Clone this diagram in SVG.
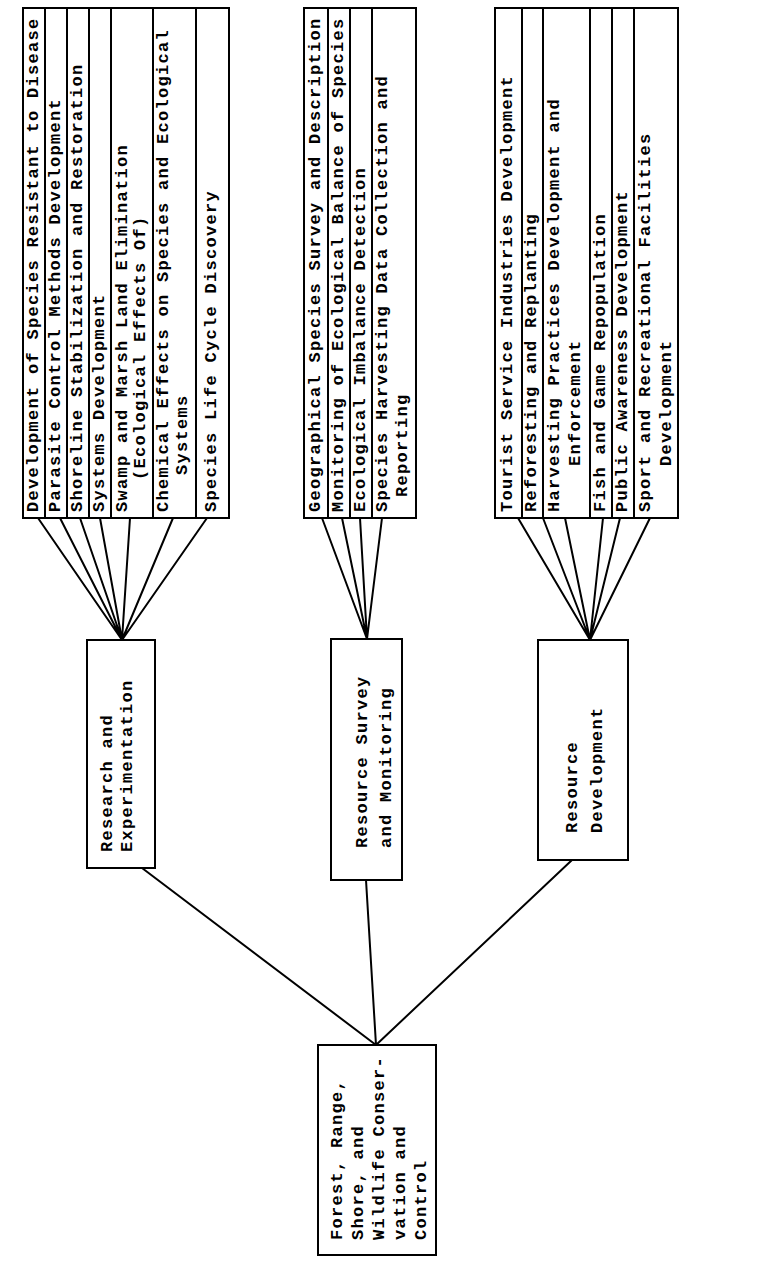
<svg xmlns="http://www.w3.org/2000/svg" width="770" height="1269" viewBox="0 0 770 1269">
<style>
.box{fill:#fff;stroke:#000;stroke-width:2}
.ln{stroke:#000;stroke-width:2;fill:none}
.t{font-family:"Liberation Mono","DejaVu Sans Mono",monospace;font-weight:bold;font-size:17px;letter-spacing:1.3px;fill:#000}
</style>
<rect width="770" height="1269" fill="#fff"/>
<g id="connectors">
<path class="ln" d="M38,518L122,640M60,518L122,640M80,518L122,640M100,518L122,640M130,518L122,640M173,518L122,640M207,518L122,640"/>
<path class="ln" d="M322,518L367,639M342,518L367,639M360,518L367,639M382,518L367,639"/>
<path class="ln" d="M518,518L590,640M543,518L590,640M565,518L590,640M603,518L590,640M620,518L590,640M650,518L590,640"/>
<path class="ln" d="M142,868L376,1045M366,880L376,1045M572,860L376,1045"/>
</g>
<g id="root">
<rect class="box" x="318" y="1045" width="118" height="210"/>
<text class="t" transform="translate(342,1240) rotate(-90)">Forest, Range,</text>
<text class="t" transform="translate(363,1240) rotate(-90)">Shore, and</text>
<text class="t" transform="translate(384,1240) rotate(-90)">Wildlife Conser-</text>
<text class="t" transform="translate(405,1240) rotate(-90)">vation and</text>
<text class="t" transform="translate(426,1240) rotate(-90)">Control</text>
</g>
<g id="research">
<rect class="box" x="87" y="640" width="68" height="228"/>
<text class="t" transform="translate(112,852) rotate(-90)">Research and</text>
<text class="t" transform="translate(132,852) rotate(-90)">Experimentation</text>
</g>
<g id="survey">
<rect class="box" x="331" y="639" width="71" height="241"/>
<text class="t" transform="translate(367,848) rotate(-90)">Resource Survey</text>
<text class="t" transform="translate(391,848) rotate(-90)">and Monitoring</text>
</g>
<g id="development">
<rect class="box" x="538" y="640" width="90" height="220"/>
<text class="t" transform="translate(577,833) rotate(-90)">Resource</text>
<text class="t" transform="translate(602,833) rotate(-90)">Development</text>
</g>
<g id="research-list">
<rect class="box" x="23" y="8" width="206" height="510"/>
<path class="ln" d="M45,8V518M67,8V518M89,8V518M111,8V518M153,8V518M196,8V518"/>
<text class="t" transform="translate(38,512) rotate(-90)">Development of Species Resistant to Disease</text>
<text class="t" transform="translate(60,512) rotate(-90)">Parasite Control Methods Development</text>
<text class="t" transform="translate(82,512) rotate(-90)">Shoreline Stabilization and Restoration</text>
<text class="t" transform="translate(104,512) rotate(-90)">Systems Development</text>
<text class="t" transform="translate(127,512) rotate(-90)">Swamp and Marsh Land Elimination</text>
<text class="t" transform="translate(145,480) rotate(-90)">(Ecological Effects Of)</text>
<text class="t" transform="translate(168,512) rotate(-90)">Chemical Effects on Species and Ecological</text>
<text class="t" transform="translate(187,475) rotate(-90)">Systems</text>
<text class="t" transform="translate(216,512) rotate(-90)">Species Life Cycle Discovery</text>
</g>
<g id="survey-list">
<rect class="box" x="304" y="8" width="112" height="510"/>
<path class="ln" d="M328,8V518M350,8V518M372,8V518"/>
<text class="t" transform="translate(320,512) rotate(-90)">Geographical Species Survey and Description</text>
<text class="t" transform="translate(343,512) rotate(-90)">Monitoring of Ecological Balance of Species</text>
<text class="t" transform="translate(365,512) rotate(-90)">Ecological Imbalance Detection</text>
<text class="t" transform="translate(387,512) rotate(-90)">Species Harvesting Data Collection and</text>
<text class="t" transform="translate(407,497) rotate(-90)">Reporting</text>
</g>
<g id="development-list">
<rect class="box" x="495" y="8" width="183" height="510"/>
<path class="ln" d="M522,8V518M543,8V518M590,8V518M612,8V518M634,8V518"/>
<text class="t" transform="translate(512,512) rotate(-90)">Tourist Service Industries Development</text>
<text class="t" transform="translate(536,512) rotate(-90)">Reforesting and Replanting</text>
<text class="t" transform="translate(559,512) rotate(-90)">Harvesting Practices Development and</text>
<text class="t" transform="translate(580,466) rotate(-90)">Enforcement</text>
<text class="t" transform="translate(605,512) rotate(-90)">Fish and Game Repopulation</text>
<text class="t" transform="translate(627,512) rotate(-90)">Public Awareness Development</text>
<text class="t" transform="translate(650,512) rotate(-90)">Sport and Recreational Facilities</text>
<text class="t" transform="translate(671,466) rotate(-90)">Development</text>
</g>
</svg>
